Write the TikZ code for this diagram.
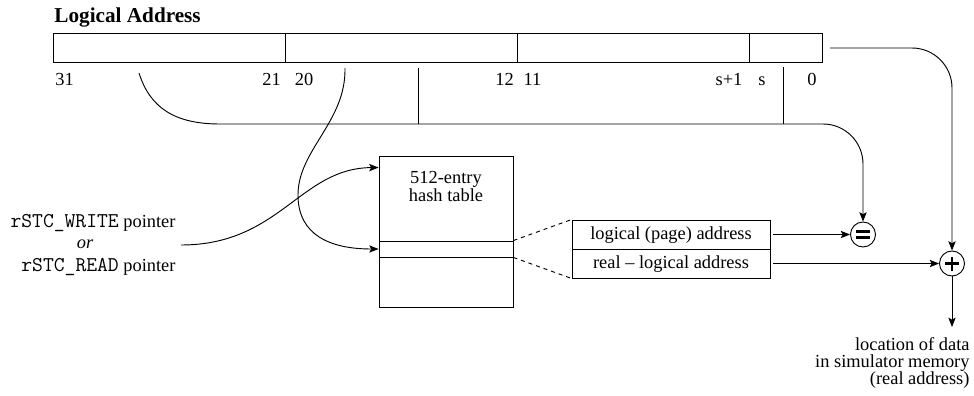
\documentclass[tikz,border=0pt]{standalone}
\usepackage{fontspec}
\setmainfont{Liberation Serif}
\usetikzlibrary{arrows.meta}
\newcommand{\ptrtt}[1]{{\fontsize{15.77}{13.5}\selectfont\ttfamily #1}}
\begin{document}
\begin{tikzpicture}[x=0.75pt,y=-0.75pt, line width=0.7pt,
  every node/.style={font=\fontsize{13.8}{13.5}\selectfont, inner sep=0pt},
  field/.style={draw, minimum height=21.75pt},
  bitlbl/.style={anchor=base},
  arr/.style={-{Stealth[length=7pt,width=5.5pt,inset=1.5pt]}},
  opcirc/.style={draw, circle, minimum size=18.75pt},
  cell/.style={draw, minimum width=100.5pt},
  entry/.style={draw, minimum width=148.5pt, minimum height=21.75pt, text height=10pt, text depth=3.25pt},
  sign/.style={line width=1.9pt}]
\useasboundingbox (0,0) rectangle (974,396);

% title
\node[anchor=base west, font=\fontsize{15.9}{18}\selectfont\bfseries] (title) at (54,22) {Logical Address};

% address fields
\node[field, minimum width=174pt]   (f1) at (169,47.5) {};
\node[field, minimum width=174pt]   (f2) at (401,47.5) {};
\node[field, minimum width=174pt]   (f3) at (633,47.5) {};
\node[field, minimum width=54.75pt] (f4) at (785.5,47.5) {};

% bit labels
\node[bitlbl] (b31) at (64.5,85) {31};
\node[bitlbl] (b21) at (271.5,85) {21};
\node[bitlbl] (b20) at (304,85) {20};
\node[bitlbl] (b12) at (504.5,85) {12};
\node[bitlbl] (b11) at (532.5,85) {11};
\node[bitlbl] (bs1) at (729,85) {s+1};
\node[bitlbl] (bs)  at (762,85) {s};
\node[bitlbl] (b0)  at (812,85) {0};

% hash table
\node[cell, minimum height=63.75pt] (tabtop) at (446,198.5) {};
\node[cell, minimum height=12pt]    (tabrow) at (446,249) {};
\node[cell, minimum height=37.5pt]  (tabbot) at (446,282) {};
\node[anchor=north, align=center] (httext) at (446,170.5) {512-entry\\hash table};

% entry
\node[entry] (e1) at (671,234.5) {logical (page) address};
\node[entry] (e2) at (671,263.5) {real – logical address};
\draw[dash pattern=on 3pt off 3pt] (tabrow.north east) -- (e1.north west);
\draw[dash pattern=on 3pt off 3pt] (tabrow.south east) -- (e2.south west);

% operators
\node[opcirc] (eq) at (863,234.5) {};
\draw[sign] ([xshift=-5.25pt,yshift=2.25pt]eq.center) -- ++(10.5pt,0);
\draw[sign] ([xshift=-5.25pt,yshift=-2.25pt]eq.center) -- ++(10.5pt,0);
\node[opcirc] (plus) at (952,263.5) {};
\draw[sign] ([xshift=-5.25pt]plus.center) -- ++(10.5pt,0);
\draw[sign] ([yshift=-5.25pt]plus.center) -- ++(0,10.5pt);

% pointer text
\node[anchor=base east] (pw) at (176,227) {\ptrtt{rSTC\_WRITE} pointer};
\node[anchor=base, font=\fontsize{13.8}{13.5}\selectfont\itshape] (por) at (85,248) {or};
\node[anchor=base east] (pr) at (176,271) {\ptrtt{rSTC\_READ} pointer};

% output text
\node[anchor=north east, align=right, font=\fontsize{13.8}{12.75}\selectfont] (out) at (970,337.4) {location of data\\in simulator memory\\(real address)};

% coordinates
\coordinate (c31) at (139,73);
\coordinate (c20) at (345,68);
\coordinate (c12) at (418,68);
\coordinate (cs)  at (783,67);
\coordinate (ptr) at (181,245);
\coordinate (rt)  at (830,48);
\coordinate (outc) at (952,327);
\coordinate (j12) at (418,124);
\coordinate (js) at (783,124);

% connectors
\draw[arr] (c31) .. controls (150,108) and (175,124) .. (220,124)
   [rounded corners=30pt] -- (863,124) -- (eq.north);
\draw (c12) -- (j12);
\draw (cs) -- (js);
\draw[arr, rounded corners=30pt] (rt) -- (952,48) -- (plus.north);
\draw[arr] (c20) .. controls (346,122) and (298,150) .. (298,195)
   .. controls (298,235) and (330,249) .. (tabrow.west);
\draw[arr] (ptr) .. controls (280,245) and (300,168) .. ([yshift=-9pt]tabtop.north west);
\draw[arr] ([xshift=2pt]e1.east) -- (eq.west);
\draw[arr] ([xshift=2pt]e2.east) -- (plus.west);
\draw[arr] (plus.south) -- (outc);
\end{tikzpicture}
\end{document}
